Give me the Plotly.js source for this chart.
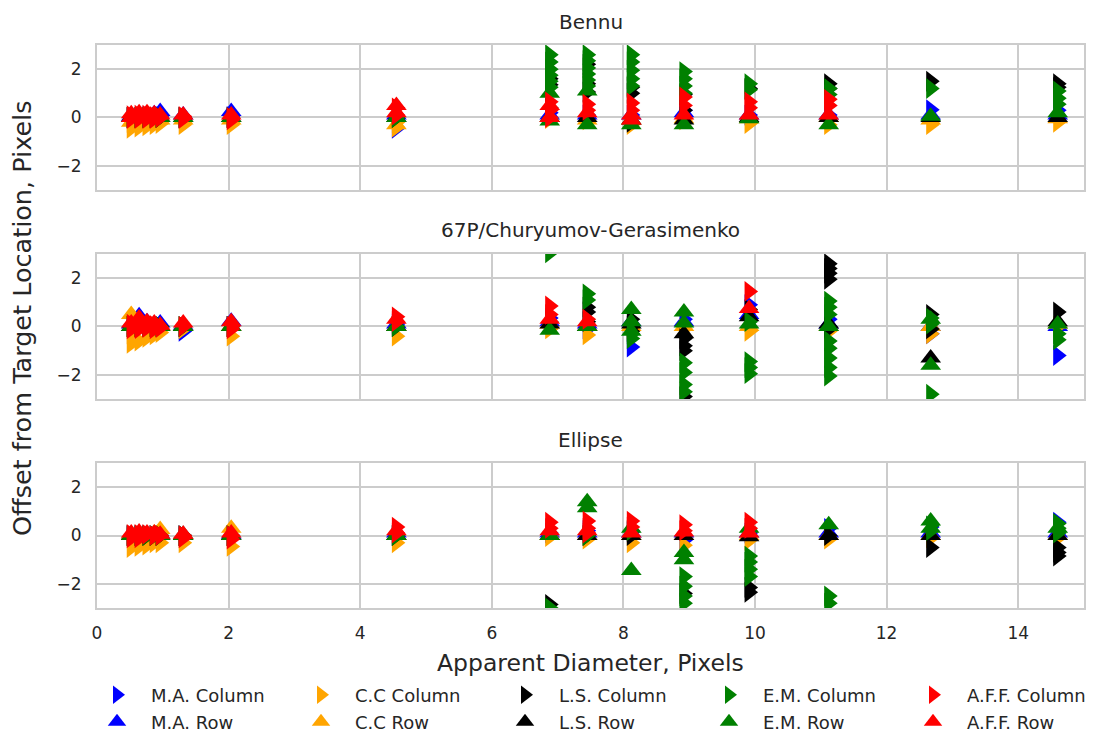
<!DOCTYPE html>
<html>
<head>
<meta charset="utf-8">
<script src="https://cdn.plot.ly/plotly-3.0.1.min.js"></script>
<style>
  html, body { margin: 0; padding: 0; background: #ffffff; }
  #chart { width: 1102px; height: 739px; }
</style>
</head>
<body>
<div id="chart"></div>
<script>
// Apparent diameters (pixels) at which each target was imaged
const diameters = [0.52, 0.64, 0.76, 0.87, 0.96, 1.31, 2.04, 4.55, 6.88, 7.45, 8.12, 8.92, 9.91, 11.12, 12.67, 14.6];

const panelTitles = ["Bennu", "67P/Churyumov-Gerasimenko", "Ellipse"];
const seriesNames = ["M.A. Column", "M.A. Row", "C.C Column", "C.C Row", "L.S. Column", "L.S. Row", "E.M. Column", "E.M. Row", "A.F.F. Column", "A.F.F. Row"];
const xTickVals = [0, 2, 4, 6, 8, 10, 12, 14];
const yTickVals = [-2, 0, 2];

// ---- Bennu: offsets per diameter (one list per diameter) ----
const bennuMACol  = [[0.0],[0.0],[0.05],[0.0],[0.05],[0.0],[0.05],[-0.45],[0.2],[0.1],[0.1],[0.3],[0.1],[0.1],[0.32],[0.3]];
const bennuMARow  = [[0.05],[0.1],[0.1],[0.15],[0.25],[0.1],[0.25],[0.1],[0.1],[0.1],[0.1],[0.2],[0.1],[0.1],[0.1],[0.1]];
const bennuCCCol  = [[-0.45,-0.2],[-0.4,-0.15],[-0.35,-0.1],[-0.3,-0.1],[-0.25],[-0.3],[-0.3],[-0.4,-0.2],[-0.05],[-0.1],[-0.3],[-0.1],[-0.25],[-0.3],[-0.3],[-0.2]];
const bennuCCRow  = [[-0.2],[-0.15],[-0.1],[-0.1],[-0.1],[-0.1],[-0.1],[-0.3],[0.0],[-0.1],[-0.1],[-0.05],[-0.05],[0.0],[-0.1],[-0.05]];
const bennuLSCol  = [[0.0],[0.0],[0.0],[0.0],[0.0],[0.0],[0.0],[0.0],[1.6,1.35,0.4],[2.2,1.4,1.05],[1.25,1.0,-0.2],[0.95,0.3],[1.2],[1.4,1.2],[1.5],[1.4,1.25]];
const bennuLSRow  = [[0.0],[0.0],[0.0],[0.0],[0.0],[0.0],[0.0],[0.0],[0.0],[0.0],[-0.1],[-0.1],[0.0],[0.0],[0.0],[0.0]];
const bennuEMCol  = [[0.0],[0.0],[0.0],[0.0],[0.0],[0.0],[0.0],[0.0],[2.6,2.3,2.0,1.75,1.5,1.25],[2.6,2.35,2.05,1.8,1.55,1.3],[2.6,2.3,1.95,1.6,1.3],[1.9,1.6,1.3,1.0],[1.4,1.15],[1.2,0.95],[1.2],[1.1,0.8,0.55]];
const bennuEMRow  = [[0.0],[0.0],[0.0],[0.0],[0.0],[0.0],[0.0],[0.0],[1.0,-0.15],[1.1,-0.3],[-0.3],[-0.3],[-0.05],[-0.3],[0.05],[0.2]];
const bennuAFFCol = [[0.08,-0.05],[0.1,-0.05],[0.1,-0.05],[0.05,-0.05],[0.0],[0.05,-0.05],[0.0,-0.1],[0.4,0.1],[0.65,0.3,0.0],[0.55,0.3],[0.6,0.3],[0.85,0.5],[0.65,0.4],[0.75,0.5],[],[]];
const bennuAFFRow = [[0.15,0.0],[0.2,0.0],[0.2,0.0],[0.15],[0.1],[0.1],[0.1],[0.5,0.2],[0.5,0.0],[0.2],[0.1,-0.1],[0.1],[0.1],[0.1],[],[]];

// ---- 67P/Churyumov-Gerasimenko ----
const cgMACol  = [[0.0],[0.0],[0.0],[0.0],[0.0],[-0.2],[0.0],[0.1],[0.35],[-0.1],[-0.85],[0.3],[0.9],[0.3],[-0.3],[-1.2]];
const cgMARow  = [[0.1],[0.45],[0.2],[0.1],[0.15],[0.05],[0.22],[0.1],[0.2],[0.1],[0.2],[0.2],[0.5],[0.1],[0.0],[0.0]];
const cgCCCol  = [[-0.7,-0.3],[-0.6],[-0.45],[-0.35],[-0.25],[-0.1],[-0.4],[-0.4],[-0.1],[-0.35],[-0.1],[-0.1],[-0.2],[-0.2],[-0.3],[0.0]];
const cgCCRow  = [[0.5],[0.2],[0.0],[0.0],[0.0],[0.0],[0.0],[0.0],[0.1],[0.0],[0.0],[0.0],[0.0],[0.0],[0.0],[0.1]];
const cgLSCol  = [[0.0],[0.0],[0.0],[0.0],[0.0],[0.0],[0.0],[0.0],[0.2],[0.8,0.6,0.2],[0.3,0.0,-0.2],[-0.5,-0.8,-1.0,-2.9],[0.7],[2.6,2.4,2.2,1.95,0.0,-0.1],[0.5,-0.1],[0.6]];
const cgLSRow  = [[0.0],[0.0],[0.0],[0.0],[0.0],[0.0],[0.0],[0.0],[0.1],[0.0],[0.1],[-0.3],[0.4],[0.1],[-1.3],[0.2]];
const cgEMCol  = [[0.0],[0.0],[0.0],[0.0],[0.0],[0.0],[0.0],[0.0],[3.05],[1.35,1.1],[-0.3,-0.5],[-1.5,-1.9,-2.4,-2.7],[0.2,-1.45,-1.7,-1.95],[1.05,0.8,0.5,-0.6,-0.9,-1.3,-1.7,-2.05],[0.35,0.1,-2.8],[-0.3,-0.55]];
const cgEMRow  = [[0.0],[0.0],[0.0],[0.0],[0.0],[0.0],[0.0],[0.0],[-0.15],[0.0],[0.7,0.2,-0.2],[0.6,0.15],[0.1],[0.0],[0.3,-1.6],[0.1]];
const cgAFFCol = [[0.1,-0.1],[0.0,-0.1],[0.0,-0.05],[0.05,-0.1],[-0.05],[0.0],[0.0,-0.1],[0.4,0.2],[0.85,0.5],[0.3],[],[],[1.45],[],[],[]];
const cgAFFRow = [[0.15],[0.35],[0.2],[0.15],[0.05],[0.15],[0.2],[0.3],[0.3],[0.2],[],[],[0.75],[],[],[]];

// ---- Ellipse ----
const elMACol  = [[0.0],[0.0],[0.0],[0.0],[0.0],[0.0],[0.0],[0.0],[0.1],[0.2],[0.15],[-0.2],[0.1],[0.3],[0.35],[0.55]];
const elMARow  = [[0.05],[0.05],[0.05],[0.05],[0.05],[0.05],[0.05],[0.1],[0.1],[0.1],[0.1],[0.1],[0.1],[0.1],[0.1],[0.1]];
const elCCCol  = [[-0.5],[-0.45],[-0.4],[-0.3],[-0.3],[-0.3],[-0.45],[-0.3],[-0.05],[-0.15],[-0.3],[-0.4],[-0.2],[-0.15],[-0.1],[-0.1]];
const elCCRow  = [[0.05],[0.05],[0.05],[0.1],[0.25],[0.05],[0.3],[0.0],[0.0],[0.0],[0.0],[0.0],[0.0],[0.0],[0.0],[0.0]];
const elLSCol  = [[0.0],[0.0],[0.0],[0.0],[0.0],[0.0],[0.0],[0.0],[-2.85],[0.0],[0.0],[-2.4],[-2.15,-2.35],[0.0],[-0.5],[-0.5,-0.7,-0.85]];
const elLSRow  = [[0.0],[0.0],[0.0],[0.0],[0.0],[0.0],[0.0],[0.0],[0.0],[0.0],[0.0],[0.0],[-0.05],[0.0],[0.0],[0.0]];
const elEMCol  = [[0.0],[0.0],[0.0],[0.0],[0.0],[0.0],[0.0],[0.0],[-3.0],[0.0],[0.2],[-1.7,-2.1,-2.5,-2.8],[-0.85,-1.1,-1.4,-1.7],[-2.5,-2.8],[0.4,0.2],[0.5,0.3,0.1]];
const elEMRow  = [[0.0],[0.0],[0.0],[0.0],[0.0],[0.0],[0.0],[0.0],[0.0],[1.4,1.15],[0.3,-1.45],[-0.7,-1.0],[0.3],[0.45],[0.6,0.3],[0.3]];
const elAFFCol = [[0.05,-0.1],[0.05,-0.1],[0.05],[0.0],[0.0],[0.0,-0.1],[0.0,-0.15],[0.35,0.1],[0.55,0.3],[0.6,0.3,0.1],[0.6,0.35],[0.45,0.2],[0.55,0.3],[],[],[]];
const elAFFRow = [[0.1],[0.15],[0.1],[0.1],[0.05],[0.05],[0.1],[0.2],[0.2],[0.2],[0.1],[0.15],[0.1],[],[],[]];

const panels = [
  [bennuMACol, bennuMARow, bennuCCCol, bennuCCRow, bennuLSCol, bennuLSRow, bennuEMCol, bennuEMRow, bennuAFFCol, bennuAFFRow],
  [cgMACol, cgMARow, cgCCCol, cgCCRow, cgLSCol, cgLSRow, cgEMCol, cgEMRow, cgAFFCol, cgAFFRow],
  [elMACol, elMARow, elCCCol, elCCRow, elLSCol, elLSRow, elEMCol, elEMRow, elAFFCol, elAFFRow]
];

const seriesColors  = ["#0000ff","#0000ff","#ffa500","#ffa500","#000000","#000000","#008000","#008000","#ff0000","#ff0000"];
const seriesSymbols = ["triangle-right","triangle-up","triangle-right","triangle-up","triangle-right","triangle-up","triangle-right","triangle-up","triangle-right","triangle-up"];

function flatten(lists) {
  const x = [], y = [];
  lists.forEach((vals, i) => vals.forEach(v => { x.push(diameters[i]); y.push(v); }));
  return {x, y};
}

const TXT = "#262626";
const FONT = "DejaVu Sans, sans-serif";
const traces = [];
panels.forEach((series, p) => {
  const ax = p === 0 ? "" : String(p + 1);
  series.forEach((lists, s) => {
    const d = flatten(lists);
    const isCol = s % 2 === 0;
    traces.push({
      type: "scatter", mode: "markers",
      x: d.x, y: d.y,
      xaxis: "x" + ax, yaxis: "y" + ax,
      name: seriesNames[s],
      legend: isCol ? "legend" : "legend2",
      showlegend: p === 0,
      marker: { symbol: seriesSymbols[s], color: seriesColors[s], size: 18, line: { width: 0 } },
      hoverinfo: "x+y+name"
    });
  });
});

// domains in paper fractions (plot area spans pixel rows 45..608)
const doms = [[0.7425, 1.0], [0.3712, 0.6288], [0.0, 0.2575]];
const legendCommon = {
  orientation: "h", xref: "paper", yref: "paper",
  x: (83 - 97) / 987, xanchor: "left", yanchor: "middle",
  entrywidth: 131, entrywidthmode: "pixels", itemwidth: 58,
  font: { family: FONT, size: 18, color: TXT }, bgcolor: "rgba(0,0,0,0)", traceorder: "normal"
};
const layout = {
  width: 1102, height: 739,
  margin: { l: 97, r: 18, t: 45, b: 131, pad: 0, autoexpand: false },
  paper_bgcolor: "#ffffff", plot_bgcolor: "#ffffff",
  font: { family: FONT, color: TXT, size: 15 },
  showlegend: true,
  legend: Object.assign({}, legendCommon, { y: (608 - 695) / 563 }),
  legend2: Object.assign({}, legendCommon, { y: (608 - 722) / 563 }),
  annotations: []
};

for (let p = 0; p < 3; p++) {
  const ax = p === 0 ? "" : String(p + 1);
  layout["xaxis" + ax] = {
    domain: [0, 1], range: [0, 15], anchor: "y" + ax,
    tickvals: xTickVals, showticklabels: p === 2,
    showgrid: true, gridcolor: "#cccccc", gridwidth: 2, zeroline: false,
    showline: true, mirror: true, linecolor: "#cccccc", linewidth: 2,
    ticks: "", ticklabelstandoff: 9,
    tickfont: { family: FONT, size: 17, color: TXT }
  };
  layout["yaxis" + ax] = {
    domain: doms[p], range: [-3, 3], anchor: "x" + ax,
    tickvals: yTickVals,
    showgrid: true, gridcolor: "#cccccc", gridwidth: 2, zeroline: false,
    showline: true, mirror: true, linecolor: "#cccccc", linewidth: 2,
    ticks: "", ticklabelstandoff: 10,
    tickfont: { family: FONT, size: 17, color: TXT }
  };
}

const titleY = [(608 - 22) / 563, (608 - 230) / 563, (608 - 440) / 563];
panelTitles.forEach((t, p) => {
  layout.annotations.push({
    text: t, xref: "paper", yref: "paper", x: 0.5, y: titleY[p],
    xanchor: "center", yanchor: "middle", showarrow: false,
    font: { family: FONT, size: 20, color: TXT }
  });
});
layout.annotations.push({
  text: "Apparent Diameter, Pixels", xref: "paper", yref: "paper",
  x: 0.5, y: (608 - 663) / 563, xanchor: "center", yanchor: "middle", showarrow: false,
  font: { family: FONT, size: 23.5, color: TXT }
});
layout.annotations.push({
  text: "Offset from Target Location, Pixels", xref: "paper", yref: "paper",
  x: (22 - 97) / 987, y: (608 - 318) / 563, xanchor: "center", yanchor: "middle", showarrow: false,
  textangle: -90, font: { family: FONT, size: 25.5, color: TXT }
});

Plotly.newPlot("chart", traces, layout, { displayModeBar: false, staticPlot: true });
</script>
</body>
</html>
